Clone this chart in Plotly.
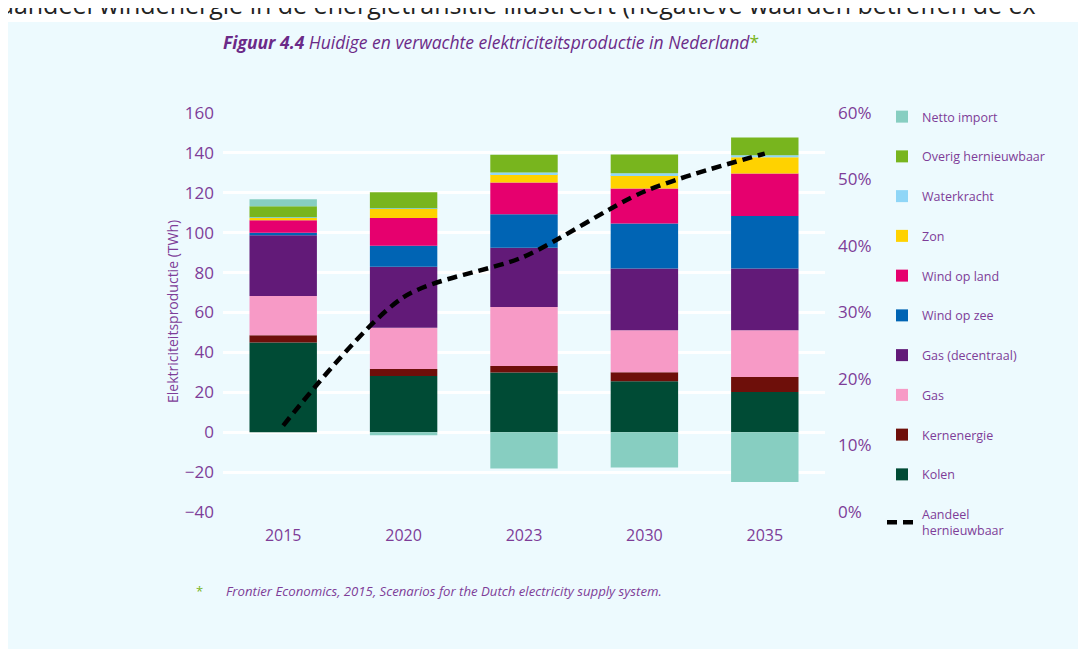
import plotly.graph_objects as go

years = ["2015", "2020", "2023", "2030", "2035"]

kolen = [45.0, 28.2, 29.9, 25.6, 20.2]
kernenergie = [3.6, 3.5, 3.3, 4.5, 7.5]
gas = [19.7, 20.6, 29.6, 21.0, 23.4]
gas_decentraal = [30.4, 30.6, 29.6, 31.0, 31.0]
wind_op_zee = [1.3, 10.5, 16.9, 22.5, 26.3]
wind_op_land = [6.3, 14.0, 15.9, 17.6, 21.3]
zon = [1.3, 4.7, 4.1, 6.6, 8.1]
waterkracht = [0.1, 0.1, 0.9, 1.0, 1.0]
overig_hernieuwbaar = [5.6, 8.1, 8.9, 9.4, 8.9]
netto_import = [3.5, -1.5, -18.2, -17.7, -24.9]
aandeel_hernieuwbaar = [13.0, 32.3, 38.4, 48.2, 53.9]

left_ticks = [-40, -20, 0, 20, 40, 60, 80, 100, 120, 140, 160]
right_ticks = [0, 10, 20, 30, 40, 50, 60]
right_labels = ["0%", "10%", "20%", "30%", "40%", "50%", "60%"]

PURPLE = "#7E3D98"
TITLE_PURPLE = "#6B2A88"
GREEN = "#7AB51D"
PANEL = "#EDFAFE"
FONT = "Open Sans"

W, H = 1086, 649
OFF = 8  # page body margin offset of the figure
# plot area in page pixels
PL, PR, PT, PB = 223, 825, 113, 512
L, R, T, B = PL - OFF, PR - OFF, PT - OFF, PB - OFF  # in figure pixels


def px(x_page):
    return (x_page - OFF - L) / (R - L)


def py(y_page):
    return (B - (y_page - OFF)) / (B - T)


series = [
    ("Kolen", kolen, "#004B35"),
    ("Kernenergie", kernenergie, "#6E0F0A"),
    ("Gas", gas, "#F79AC6"),
    ("Gas (decentraal)", gas_decentraal, "#621A78"),
    ("Wind op zee", wind_op_zee, "#0064B4"),
    ("Wind op land", wind_op_land, "#E6006E"),
    ("Zon", zon, "#FFD200"),
    ("Waterkracht", waterkracht, "#8FD6F7"),
    ("Overig hernieuwbaar", overig_hernieuwbaar, "#78B51E"),
    ("Netto import", netto_import, "#87CEC1"),
]

fig = go.Figure()
n = len(series)
for i, (name, vals, col) in enumerate(series):
    fig.add_trace(go.Bar(
        x=years, y=vals, name=name, marker=dict(color=col, line=dict(width=0)),
        legendgroup=name, legendrank=100 + (n - i),
    ))

fig.add_trace(go.Scatter(
    x=years, y=aandeel_hernieuwbaar, yaxis="y2", mode="lines",
    name="Aandeel<br>hernieuwbaar", legendgroup="aandeel", legendrank=200,
    line=dict(color="black", width=4.5, dash="10px,6px", shape="spline", smoothing=0.8),
))

fig.update_layout(
    width=W, height=H,
    margin=dict(l=L, r=W - R, t=T, b=H - B, pad=0, autoexpand=False),
    paper_bgcolor=PANEL, plot_bgcolor=PANEL,
    barmode="relative", bargap=0.44,
    font=dict(family=FONT, color=PURPLE, size=15),
    showlegend=True,
    legend=dict(
        x=px(882), y=py(102), xanchor="left", yanchor="top",
        traceorder="grouped", tracegroupgap=20.5, maxheight=600,
        font=dict(size=12.5, color=PURPLE, family=FONT),
        bgcolor="rgba(0,0,0,0)", itemwidth=30,
    ),
    xaxis=dict(
        type="category", range=[-0.5, 4.5], showgrid=False, zeroline=False,
        showline=False, ticks="", tickfont=dict(size=16, color=PURPLE),
        ticklabelstandoff=12,
    ),
    yaxis=dict(
        range=[-40, 160], tickvals=left_ticks, showgrid=True, gridcolor="white",
        gridwidth=3, zeroline=True, zerolinecolor="white", zerolinewidth=3,
        showline=False, ticks="", tickfont=dict(size=17, color=PURPLE),
        ticklabelstandoff=8,
    ),
    yaxis2=dict(
        overlaying="y", side="right", range=[0, 60], tickvals=right_ticks,
        ticktext=right_labels, showgrid=False, zeroline=False, showline=False,
        ticks="", tickfont=dict(size=17, color=PURPLE), ticklabelstandoff=12,
    ),
)

# white page strip above the light-blue panel
fig.add_shape(type="rect", xref="paper", yref="paper", layer="below",
              x0=px(-20), x1=px(W + 20), y0=py(22), y1=py(-20),
              fillcolor="white", line=dict(width=0))

annotations = [
    # running text of the page above the figure (cut off at the top in the reference too)
    dict(text="aandeel windenergie in de energietransitie illustreert (negatieve waarden betreffen de ex",
         x=px(-2), y=py(23), xanchor="left", yanchor="bottom", showarrow=False,
         font=dict(family=FONT, size=25, color="#222222")),
    dict(text="<b><i>Figuur 4.4</i></b><i> Huidige en verwachte elektriciteitsproductie in Nederland</i>"
              "<span style='color:#7AB51D'>*</span>",
         x=px(221), y=py(42), xanchor="left", yanchor="middle", showarrow=False,
         font=dict(family=FONT, size=17.5, color=TITLE_PURPLE)),
    dict(text="Elektriciteitsproductie (TWh)", textangle=-90,
         x=px(172), y=py(312), xanchor="center", yanchor="middle", showarrow=False,
         font=dict(family=FONT, size=14, color=PURPLE)),
    dict(text="*", x=px(199), y=py(591), xanchor="center", yanchor="middle", showarrow=False,
         font=dict(family=FONT, size=13, color=GREEN)),
    dict(text="<i>Frontier Economics, 2015, Scenarios for the Dutch electricity supply system.</i>",
         x=px(224), y=py(591), xanchor="left", yanchor="middle", showarrow=False,
         font=dict(family=FONT, size=13.2, color=PURPLE)),
]
for a in annotations:
    a["xref"] = "paper"
    a["yref"] = "paper"
fig.update_layout(annotations=annotations)

fig.write_html("out.html")
